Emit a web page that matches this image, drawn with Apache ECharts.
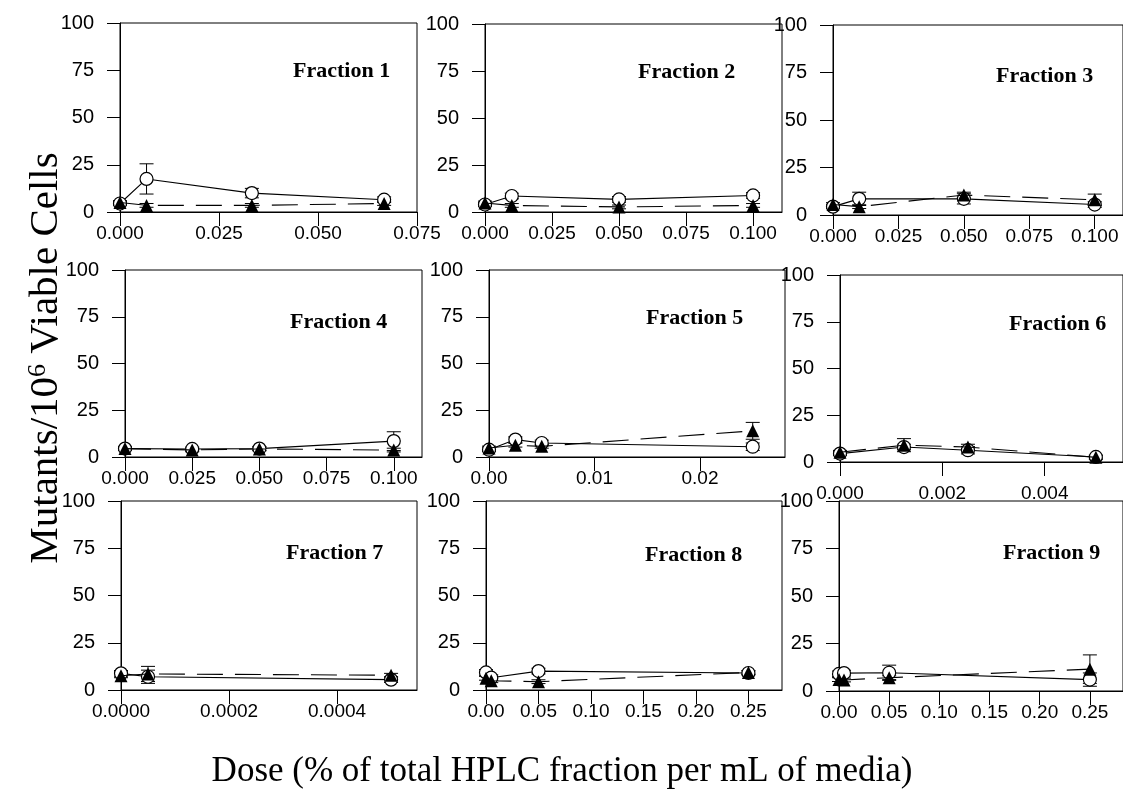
<!DOCTYPE html>
<html>
<head>
<meta charset="utf-8">
<script src="https://cdn.jsdelivr.net/npm/echarts@6/dist/echarts.min.js"></script>
<style>
html,body{margin:0;padding:0;background:#fff;}
#chart{width:1123px;height:798px;}
</style>
</head>
<body>
<div id="chart"></div>
<script>
// ---------- DATA ----------
const fractionNames = ['Fraction 1','Fraction 2','Fraction 3','Fraction 4','Fraction 5','Fraction 6','Fraction 7','Fraction 8','Fraction 9'];
const yTickLabels = ['0','25','50','75','100'];

// Fraction 1
const f1Dose = [0, 0.0067, 0.0333, 0.0667];
const f1Open = [4.5, 17.5, 10, 6.5];
const f1OpenErr = [1, 8, 2.5, 1.5];
const f1Tri = [5, 3.5, 3.5, 4.5];
const f1TriErr = [1, 1, 1, 1];
const f1Ticks = ['0.000','0.025','0.050','0.075'];
// Fraction 2
const f2Dose = [0, 0.01, 0.05, 0.1];
const f2Open = [4, 8.5, 6.7, 8.8];
const f2OpenErr = [1, 1.5, 1.5, 1.5];
const f2Tri = [4.8, 3.5, 2.7, 3.5];
const f2TriErr = [1, 1, 1, 1];
const f2Ticks = ['0.000','0.025','0.050','0.075','0.100'];
// Fraction 3
const f3Dose = [0, 0.01, 0.05, 0.1];
const f3Open = [4.4, 8.5, 8.5, 5.5];
const f3OpenErr = [1, 3.5, 2.7, 1.5];
const f3Tri = [5.5, 4.4, 10.5, 8];
const f3TriErr = [1, 1, 1.5, 3];
const f3Ticks = ['0.000','0.025','0.050','0.075','0.100'];
// Fraction 4
const f4Dose = [0, 0.025, 0.05, 0.1];
const f4Open = [4.5, 4.3, 4.5, 8.5];
const f4OpenErr = [1, 1, 1, 5];
const f4Tri = [4.5, 3.8, 4.3, 3.7];
const f4TriErr = [1, 1, 1, 1];
const f4Ticks = ['0.000','0.025','0.050','0.075','0.100'];
// Fraction 5
const f5Dose = [0, 0.0025, 0.005, 0.025];
const f5Open = [3.9, 9.3, 7.5, 5.5];
const f5OpenErr = [1, 1.5, 1.5, 2];
const f5Tri = [4.8, 6.3, 5.7, 14];
const f5TriErr = [1, 1, 1, 4.5];
const f5Ticks = ['0.00','0.01','0.02'];
// Fraction 6
const f6Dose = [0, 0.00125, 0.0025, 0.005];
const f6Open = [4.5, 8, 6.3, 2.7];
const f6OpenErr = [1, 1.5, 2, 1];
const f6Tri = [5.2, 9, 8, 2.5];
const f6TriErr = [1, 3.5, 1.5, 1];
const f6Ticks = ['0.000','0.002','0.004'];
// Fraction 7
const f7Dose = [0, 0.00005, 0.0005];
const f7Open = [8.8, 7, 5.5];
const f7OpenErr = [1.5, 3.5, 1.5];
const f7Tri = [7.5, 8.5, 7.8];
const f7TriErr = [1, 4, 1];
const f7Ticks = ['0.0000','0.0002','0.0004'];
// Fraction 8
const f8Dose = [0, 0.005, 0.05, 0.25];
const f8Open = [9.3, 6.5, 10, 9];
const f8OpenErr = [1.5, 1.5, 1.5, 1];
const f8Tri = [6.2, 4.9, 4.4, 9.3];
const f8TriErr = [1, 1, 1, 1];
const f8Ticks = ['0.00','0.05','0.10','0.15','0.20','0.25'];
// Fraction 9
const f9Dose = [0, 0.005, 0.05, 0.25];
const f9Open = [9, 9.4, 9.6, 6];
const f9OpenErr = [1.5, 1.5, 4, 3.5];
const f9Tri = [6, 5.8, 7, 11.5];
const f9TriErr = [1, 1, 1, 7.5];
const f9Ticks = ['0.00','0.05','0.10','0.15','0.20','0.25'];

const yTitle = 'Mutants/10';
const ySup = '6';
const yTitleEnd = ' Viable Cells';
const xTitle = 'Dose (% of total HPLC fraction per mL of media)';

// ---------- LAYOUT (positions / axis ranges) ----------
const layout = [
  {left:120, top:23,  width:297, height:189, xMax:0.075,   lx:293,  ly:71,  lblMargin:12},
  {left:485, top:24,  width:297, height:188, xMax:0.1108,  lx:638,  ly:72,  lblMargin:12},
  {left:833, top:25,  width:297, height:190, xMax:0.1108,  lx:996,  ly:76,  lblMargin:12},
  {left:125, top:270, width:297, height:187, xMax:0.1105,  lx:290,  ly:322, lblMargin:12},
  {left:489, top:270, width:296, height:187, xMax:0.02806, lx:646,  ly:318, lblMargin:12},
  {left:840, top:275, width:297, height:187, xMax:0.00553, lx:1009, ly:324, lblMargin:22},
  {left:121, top:501, width:296, height:189, xMax:0.000548,lx:286,  ly:553, lblMargin:12},
  {left:486, top:501, width:296, height:189, xMax:0.282,   lx:645,  ly:555, lblMargin:12},
  {left:839, top:501, width:297, height:190, xMax:0.283,   lx:1003, ly:553, lblMargin:12}
];

const panelData = [
  [f1Dose, f1Open, f1OpenErr, f1Tri, f1TriErr, f1Ticks],
  [f2Dose, f2Open, f2OpenErr, f2Tri, f2TriErr, f2Ticks],
  [f3Dose, f3Open, f3OpenErr, f3Tri, f3TriErr, f3Ticks],
  [f4Dose, f4Open, f4OpenErr, f4Tri, f4TriErr, f4Ticks],
  [f5Dose, f5Open, f5OpenErr, f5Tri, f5TriErr, f5Ticks],
  [f6Dose, f6Open, f6OpenErr, f6Tri, f6TriErr, f6Ticks],
  [f7Dose, f7Open, f7OpenErr, f7Tri, f7TriErr, f7Ticks],
  [f8Dose, f8Open, f8OpenErr, f8Tri, f8TriErr, f8Ticks],
  [f9Dose, f9Open, f9OpenErr, f9Tri, f9TriErr, f9Ticks]
];

const SANS = '"Liberation Sans", Arial, sans-serif';
const SERIF = '"Liberation Serif", "Times New Roman", serif';
const BLACK = '#000';

function errItem(params, api) {
  const x = api.value(0), y = api.value(1), e = api.value(2);
  const t = api.coord([x, y + e]);
  const b = api.coord([x, y - e]);
  const hw = 7;
  const st = {stroke: BLACK, lineWidth: 1};
  return {type: 'group', children: [
    {type: 'line', shape: {x1: t[0], y1: t[1], x2: b[0], y2: b[1]}, style: st},
    {type: 'line', shape: {x1: t[0] - hw, y1: t[1], x2: t[0] + hw, y2: t[1]}, style: st},
    {type: 'line', shape: {x1: b[0] - hw, y1: b[1], x2: b[0] + hw, y2: b[1]}, style: st}
  ]};
}

const grids = [], xAxes = [], yAxes = [], series = [], graphics = [];

layout.forEach((L, i) => {
  const [dose, open, openErr, tri, triErr, ticks] = panelData[i];
  const tickVals = ticks.map(parseFloat);
  grids.push({left: L.left, top: L.top, width: L.width, height: L.height,
    show: true, borderColor: BLACK, borderWidth: 1, backgroundColor: 'transparent'});
  xAxes.push({
    gridIndex: i, type: 'value', min: 0, max: L.xMax,
    axisLine: {show: true, onZero: false, lineStyle: {color: BLACK, width: 1}},
    axisTick: {show: true, length: 14, customValues: tickVals, lineStyle: {color: BLACK, width: 1}},
    axisLabel: {show: true, customValues: tickVals, margin: L.lblMargin,
      fontSize: 19, fontFamily: SANS, color: BLACK,
      formatter: v => { const k = tickVals.findIndex(t => Math.abs(t - v) < 1e-12); return k >= 0 ? ticks[k] : ''; }},
    splitLine: {show: false}
  });
  yAxes.push({
    gridIndex: i, type: 'value', min: 0, max: 100, interval: 25,
    axisLine: {show: true, lineStyle: {color: BLACK, width: 1}},
    axisTick: {show: true, length: 13, lineStyle: {color: BLACK, width: 1}},
    axisLabel: {show: true, margin: 26, fontSize: 20, fontFamily: SANS, color: BLACK,
      formatter: v => yTickLabels[Math.round(v / 25)]},
    splitLine: {show: false}
  });
  series.push({
    type: 'custom', xAxisIndex: i, yAxisIndex: i, renderItem: errItem, z: 1, clip: false,
    encode: {x: 0, y: 1}, data: dose.map((d, k) => [d, open[k], openErr[k]])
  });
  series.push({
    type: 'custom', xAxisIndex: i, yAxisIndex: i, renderItem: errItem, z: 1, clip: false,
    encode: {x: 0, y: 1}, data: dose.map((d, k) => [d, tri[k], triErr[k]])
  });
  series.push({
    type: 'line', xAxisIndex: i, yAxisIndex: i, z: 3, clip: false,
    data: dose.map((d, k) => [d, open[k]]),
    symbol: 'circle', symbolSize: 13, showSymbol: true,
    itemStyle: {color: '#fff', borderColor: BLACK, borderWidth: 1.2},
    lineStyle: {color: BLACK, width: 1.1, type: 'solid'}
  });
  series.push({
    type: 'line', xAxisIndex: i, yAxisIndex: i, z: 4, clip: false,
    data: dose.map((d, k) => [d, tri[k]]),
    symbol: 'triangle', symbolSize: 13, showSymbol: true,
    itemStyle: {color: BLACK, borderColor: BLACK, borderWidth: 0},
    lineStyle: {color: BLACK, width: 1.1, type: [26, 12]}
  });
  graphics.push({
    type: 'text', x: L.lx, y: L.ly, z: 10,
    style: {text: fractionNames[i], fontSize: 22, fontWeight: 'bold', fontFamily: SERIF,
      fill: BLACK, verticalAlign: 'middle', align: 'left'}
  });
});

graphics.push({
  type: 'text', x: 46, y: 358, rotation: Math.PI / 2, z: 10,
  style: {
    text: yTitle + '{s|' + ySup + '}' + yTitleEnd,
    fontSize: 41, fontFamily: SERIF, fill: BLACK, align: 'center', verticalAlign: 'middle',
    rich: {s: {fontSize: 26, fontFamily: SERIF, fill: BLACK, verticalAlign: 'top', padding: [0, 0, 16, 0]}}
  }
});
graphics.push({
  type: 'text', x: 562, y: 772, z: 10,
  style: {text: xTitle, fontSize: 35, fontFamily: SERIF, fill: BLACK, align: 'center', verticalAlign: 'middle'}
});

const chart = echarts.init(document.getElementById('chart'), null, {renderer: 'canvas'});
chart.setOption({
  animation: false,
  backgroundColor: '#fff',
  grid: grids,
  xAxis: xAxes,
  yAxis: yAxes,
  series: series,
  graphic: graphics
});
</script>
</body>
</html>
